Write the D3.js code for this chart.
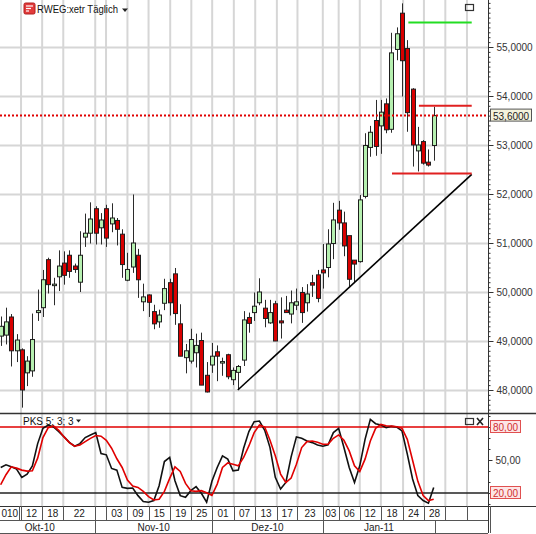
<!DOCTYPE html>
<html>
<head>
<meta charset="utf-8">
<script src="https://cdn.jsdelivr.net/npm/d3@7"></script>
<style>
  body { margin: 0; background: #fff; }
  text { font-family: "Liberation Sans", Arial, sans-serif; }
</style>
</head>
<body>
<div id="chart"></div>
<script>
var svgWidth = 536;
var svgHeight = 534;

// daily candles, RWE on Xetra, one per trading day
var opens = [49.10,49.12,49.49,48.80,48.82,48.35,48.39,49.58,49.68,50.66,
  50.13,50.31,50.59,50.75,50.53,50.20,51.12,51.20,51.70,51.31,
  51.70,51.39,51.46,51.18,50.24,50.51,50.75,49.80,49.94,49.60,
  49.39,49.77,50.19,50.37,49.35,48.66,48.59,48.76,49.01,48.30,
  48.51,48.78,48.55,48.72,48.21,48.36,48.61,49.48,49.58,49.78,
  49.67,49.37,49.76,49.41,49.63,49.55,49.73,49.99,49.78,50.19,
  50.35,50.45,50.50,50.99,51.67,51.41,51.15,50.65,50.62,51.95,
  52.95,53.50,53.39,53.84,53.32,54.95,55.69,54.97,54.14,52.88,
  53.07,52.65,52.99];
var highs = [49.50,49.68,49.55,49.14,48.85,48.69,49.56,50.05,50.45,50.70,
  50.29,50.85,50.83,50.85,50.58,51.24,51.60,51.83,51.75,51.61,
  51.78,51.81,51.51,51.28,50.80,51.99,50.88,50.17,49.95,49.74,
  49.64,50.27,50.27,50.49,49.75,48.94,49.25,49.15,49.17,48.57,
  48.96,48.91,48.66,48.74,48.46,48.51,49.61,49.58,49.99,50.28,
  49.84,49.84,49.82,49.89,49.92,50.03,50.07,50.10,50.16,50.35,
  50.45,50.98,51.28,51.82,51.86,51.64,51.15,50.65,51.98,53.24,
  53.39,53.92,53.92,53.95,55.29,55.40,55.89,55.14,54.16,53.37,
  53.10,52.91,53.78];
var lows = [48.90,48.93,48.48,48.57,47.64,48.08,48.27,49.41,49.49,49.97,
  49.73,50.02,50.15,50.29,50.39,50.00,50.92,50.99,50.97,50.97,
  50.92,51.22,50.95,50.29,50.22,50.39,49.88,49.61,49.49,49.24,
  49.27,49.63,49.52,49.33,48.69,48.34,48.54,48.46,48.10,47.95,
  48.35,48.18,48.29,48.22,48.10,48.02,48.49,49.17,49.41,49.73,
  49.28,49.35,49.00,49.05,49.58,49.36,49.63,49.37,49.60,49.90,
  49.79,50.07,50.30,50.67,51.27,50.73,50.11,50.18,50.60,51.91,
  52.76,52.78,52.82,53.24,53.25,54.73,53.99,53.27,52.56,52.46,
  52.60,52.56,52.68];
var closes = [49.30,49.39,48.80,49.02,48.00,48.59,49.03,49.62,50.25,50.15,
  50.16,50.53,50.34,50.42,50.46,50.75,51.20,51.49,51.20,51.47,
  51.10,51.51,51.28,50.56,50.46,51.00,50.25,49.90,49.79,49.35,
  49.53,50.07,49.78,49.56,48.69,48.80,49.03,48.91,48.10,47.96,
  48.69,48.69,48.58,48.27,48.40,48.48,49.43,49.36,49.71,50.00,
  49.46,49.58,49.00,49.37,49.58,49.78,49.80,49.58,49.96,50.14,
  49.87,50.39,50.98,51.47,51.41,50.94,50.26,50.57,51.88,52.99,
  53.26,52.97,53.67,53.31,54.88,55.27,54.72,53.66,53.00,53.00,
  52.63,52.59,53.60];

// slow stochastic (PKS 5; 3; 3): black %K, red %D
var stochK = [43.2,45.6,43.8,41.7,34.2,37.2,44.7,64.9,78.8,81.8,
  80,75.8,71,66.1,62.5,64.9,70.4,72.8,74.9,55.9,
  54.7,42.3,40.8,25.1,24.2,24.5,17.6,12.2,11.6,13.1,
  26.6,48.6,52.3,31.2,17.6,16.1,22.1,25.7,19.7,11.6,
  30.6,43.2,53.8,50.8,40.2,40.8,60.7,75.8,84.8,85.4,
  77,61.3,34.2,23.6,29.6,52.9,71,69.7,67.3,65.8,
  63.7,62.5,63.7,74.9,78.8,61.3,43.2,29.6,44.7,68.8,
  86.9,83,81.8,79.4,80.6,80,76.4,55.3,32.7,17.6,
  13.1,10.7,25.1];
var stochD = [27.5,36.6,43.8,42.6,40.8,39.9,40.2,51.7,70.4,79.4,
  80.9,77,71,65.8,62.5,63.7,66.7,69.7,72.2,71.6,
  67.9,60.7,51.1,43.2,31.8,26.3,25.1,21.5,16.7,13.7,
  14.3,21.5,33.3,43.8,39.6,28.7,22.1,21.5,22.1,20.3,
  17.9,28.1,43.2,47.4,46.2,44.7,52.3,62.8,74.9,81.8,
  80,67.9,53.8,37.2,29.6,33.6,46.2,61.3,66.7,67.3,
  66.1,64.3,64.3,69.7,72.8,67.9,58.3,44.7,39.6,50.8,
  67.3,78.8,82.4,81.2,80.9,80.3,78.8,68.8,49.8,30.6,
  17.6,13.1,14.3];

var priceTicks = [48, 49, 50, 51, 52, 53, 54, 55];
var oscTicks = [50];
var oscLevels = [80, 20];
var lastPrice = 53.6;

// date axis, in trading-day index units
var gridIdx = [3.85, 7.85, 11.85, 17.9, 19.95, 24, 28, 32.1, 36.1, 40.05, 44.15,
  48.2, 52.3, 56.2, 61, 64, 68, 72, 76.2, 80.15, 84.2, 88.3];
var dayEdges = [0, 3.45, 3.85, 7.85, 11.85, 17.9, 19.95, 24, 28, 32.1, 36.1, 40.05, 44.15,
  48.2, 52.3, 56.2, 61, 64, 68, 72, 76.2, 80.15, 84.2, 88.3, 92.6];
var dayLabels = ["010", "", "12", "18", "22", "", "03", "09", "15", "19", "25", "01", "07",
  "13", "17", "23", "03", "06", "12", "18", "24", "28", "", ""];
var monthEdges = [-3.1, 17.9, 40.05, 61, 82.25, 92.6];
var monthLabels = ["Okt-10", "Nov-10", "Dez-10", "Jan-11", ""];

// drawn lines: [start index, start price], [end index, end price]
var trendLine = [[44.9, 48.0], [89.2, 52.40]];
var supportLevel = [74.1, 89.2, 52.42];
var resistLevel = [79.2, 89.2, 53.80];
var targetLevel = [77.2, 89.2, 55.50];

var plotRight = 488;
var mainBottom = 413;
var oscBottom = 506;
var dayBottom = 520;
var monthBottom = 533;

var svg = d3.select("#chart")
  .append("svg")
  .attr("width", svgWidth)
  .attr("height", svgHeight);

var xScale = d3.scaleLinear().domain([0, 82]).range([0.7, 433.7]);
var yScale = d3.scaleLinear().domain([48, 55]).range([390, 47]);
var oscScale = d3.scaleLinear().domain([20, 80]).range([493, 427]);

var de = d3.formatLocale({decimal: ",", thousands: ".", grouping: [3], currency: ["", " €"]});
var fmt4 = de.format(".4f");
var fmt2 = de.format(".2f");

var defs = svg.append("defs");
defs.append("clipPath").attr("id", "clipMain")
  .append("rect").attr("x", 0).attr("y", 0).attr("width", plotRight).attr("height", mainBottom);
defs.append("clipPath").attr("id", "clipOsc")
  .append("rect").attr("x", 0).attr("y", mainBottom).attr("width", plotRight).attr("height", oscBottom - mainBottom);

// grid
var grid = svg.append("g");
grid.selectAll(".vgrid").data(gridIdx).enter().append("line")
  .attr("x1", d => xScale(d)).attr("x2", d => xScale(d))
  .attr("y1", 0).attr("y2", oscBottom)
  .attr("stroke", "#d6d6d6").attr("stroke-width", 2);
grid.selectAll(".hgrid").data(priceTicks).enter().append("line")
  .attr("x1", 0).attr("x2", plotRight)
  .attr("y1", d => Math.round(yScale(d)) + 0.5).attr("y2", d => Math.round(yScale(d)) + 0.5)
  .attr("stroke", "#d6d6d6").attr("stroke-width", 2);

// candles
var main = svg.append("g").attr("clip-path", "url(#clipMain)");
var idx = d3.range(opens.length);
function cx(i) { return Math.round(xScale(i)) + 0.5; }

main.selectAll(".wick").data(idx).enter().append("line")
  .attr("x1", cx).attr("x2", cx)
  .attr("y1", i => yScale(highs[i])).attr("y2", i => yScale(lows[i]))
  .attr("stroke", "#2b2b2b").attr("stroke-width", 1);

main.selectAll(".body").data(idx).enter().append("rect")
  .attr("x", i => cx(i) - 2)
  .attr("width", 4)
  .attr("y", i => yScale(Math.max(opens[i], closes[i])))
  .attr("height", i => Math.max(1, Math.abs(yScale(opens[i]) - yScale(closes[i]))))
  .attr("fill", i => closes[i] >= opens[i] ? "#b6f0b0" : "#d80000")
  .attr("stroke", "#1e1e1e").attr("stroke-width", 1);

// last price
main.append("line")
  .attr("x1", 0).attr("x2", plotRight)
  .attr("y1", yScale(lastPrice)).attr("y2", yScale(lastPrice))
  .attr("stroke", "#e00000").attr("stroke-width", 2).attr("stroke-dasharray", "2,2");

// drawn tools
main.append("line")
  .attr("x1", xScale(trendLine[0][0])).attr("y1", yScale(trendLine[0][1]))
  .attr("x2", xScale(trendLine[1][0])).attr("y2", yScale(trendLine[1][1]))
  .attr("stroke", "#000").attr("stroke-width", 1.6);

[[supportLevel, "#e02020"], [resistLevel, "#e02020"], [targetLevel, "#22dd22"]].forEach(function(l) {
  main.append("line")
    .attr("x1", xScale(l[0][0])).attr("x2", xScale(l[0][1]))
    .attr("y1", yScale(l[0][2])).attr("y2", yScale(l[0][2]))
    .attr("stroke", l[1]).attr("stroke-width", 2);
});

// oscillator
var osc = svg.append("g").attr("clip-path", "url(#clipOsc)");
osc.selectAll(".lvl").data(oscLevels).enter().append("line")
  .attr("x1", 0).attr("x2", plotRight)
  .attr("y1", d => oscScale(d)).attr("y2", d => oscScale(d))
  .attr("stroke", d => d === 80 ? "#e00000" : "#222").attr("stroke-width", 1.5);

var oscLine = d3.line().x((d, i) => xScale(i)).y(d => oscScale(d));
osc.append("path").datum(stochK).attr("d", oscLine)
  .attr("fill", "none").attr("stroke", "#111").attr("stroke-width", 1.6);
osc.append("path").datum(stochD).attr("d", oscLine)
  .attr("fill", "none").attr("stroke", "#e00000").attr("stroke-width", 1.6);

// panel frames
svg.append("line").attr("x1", 0).attr("x2", svgWidth).attr("y1", mainBottom + 0.5).attr("y2", mainBottom + 0.5)
  .attr("stroke", "#333").attr("stroke-width", 1.5);
svg.append("line").attr("x1", plotRight + 0.5).attr("x2", plotRight + 0.5).attr("y1", 0).attr("y2", monthBottom)
  .attr("stroke", "#333").attr("stroke-width", 1);
svg.append("line").attr("x1", 0).attr("x2", svgWidth).attr("y1", oscBottom + 0.5).attr("y2", oscBottom + 0.5)
  .attr("stroke", "#333").attr("stroke-width", 1);
svg.append("line").attr("x1", 0).attr("x2", plotRight).attr("y1", dayBottom + 0.5).attr("y2", dayBottom + 0.5)
  .attr("stroke", "#555").attr("stroke-width", 1);
svg.append("line").attr("x1", 0).attr("x2", plotRight).attr("y1", monthBottom + 0.5).attr("y2", monthBottom + 0.5)
  .attr("stroke", "#555").attr("stroke-width", 1);

// price axis
var priceAxis = svg.append("g")
  .attr("transform", `translate(${plotRight + 0.5}, 0)`)
  .call(d3.axisRight(yScale).tickValues(priceTicks).tickFormat(fmt4).tickSize(5).tickPadding(3));
var minorAxis = svg.append("g")
  .attr("transform", `translate(${plotRight + 0.5}, 0)`)
  .call(d3.axisRight(yScale).tickValues(d3.range(476, 560).map(v => v / 10)).tickFormat("").tickSize(2));
[priceAxis, minorAxis].forEach(function(a) {
  a.select(".domain").remove();
  a.selectAll("line").attr("stroke", "#333");
});
priceAxis.selectAll("text").attr("font-size", "10px").attr("fill", "#333")
  .attr("font-family", "Liberation Sans, Arial, sans-serif");

// last price tag
var tagY = yScale(lastPrice);
svg.append("rect").attr("x", plotRight + 2.5).attr("y", tagY - 6.5).attr("width", 41).attr("height", 12)
  .attr("fill", "#f3f3dc").attr("stroke", "#555");
svg.append("text").attr("x", plotRight + 5).attr("y", tagY + 4)
  .attr("font-size", "10px").attr("fill", "#222").text(fmt4(lastPrice));

// oscillator axis
var oscAxis = svg.append("g")
  .attr("transform", `translate(${plotRight + 0.5}, 0)`)
  .call(d3.axisRight(oscScale).tickValues(oscTicks).tickFormat(fmt2).tickSize(4).tickPadding(3));
var oscMinor = svg.append("g")
  .attr("transform", `translate(${plotRight + 0.5}, 0)`)
  .call(d3.axisRight(oscScale).tickValues(d3.range(10, 100, 10)).tickFormat("").tickSize(2));
[oscAxis, oscMinor].forEach(function(a) {
  a.select(".domain").remove();
  a.selectAll("line").attr("stroke", "#333");
});
oscMinor.selectAll(".tick").filter(d => oscScale(d) < mainBottom + 2 || oscScale(d) > oscBottom - 1).remove();
oscAxis.selectAll("text").attr("font-size", "10px").attr("fill", "#333")
  .attr("font-family", "Liberation Sans, Arial, sans-serif");

oscLevels.forEach(function(v) {
  var yy = oscScale(v);
  svg.append("rect").attr("x", plotRight + 2.5).attr("y", yy - 6.5).attr("width", 30).attr("height", 12)
    .attr("fill", "#fde6e6").attr("stroke", "#e05050");
  svg.append("text").attr("x", plotRight + 5).attr("y", yy + 4)
    .attr("font-size", "10px").attr("fill", "#d03030").text(fmt2(v));
});

// date axis: days
var dayAxis = svg.append("g");
dayAxis.selectAll(".dsep").data(dayEdges.slice(1)).enter().append("line")
  .attr("x1", d => Math.round(xScale(d)) + 0.5).attr("x2", d => Math.round(xScale(d)) + 0.5)
  .attr("y1", oscBottom).attr("y2", dayBottom)
  .attr("stroke", "#555");
dayAxis.selectAll(".dlab").data(dayLabels).enter().append("text")
  .attr("x", (d, i) => (xScale(dayEdges[i]) + xScale(dayEdges[i + 1])) / 2)
  .attr("y", oscBottom + 11)
  .attr("text-anchor", "middle")
  .attr("font-size", "10px").attr("fill", "#222")
  .text(d => d);

// date axis: months
var monthAxis = svg.append("g");
monthAxis.selectAll(".msep").data(monthEdges.slice(1)).enter().append("line")
  .attr("x1", d => Math.round(xScale(d)) + 0.5).attr("x2", d => Math.round(xScale(d)) + 0.5)
  .attr("y1", dayBottom).attr("y2", monthBottom)
  .attr("stroke", "#555");
monthAxis.selectAll(".mlab").data(monthLabels).enter().append("text")
  .attr("x", (d, i) => (xScale(monthEdges[i]) + xScale(monthEdges[i + 1])) / 2)
  .attr("y", dayBottom + 11)
  .attr("text-anchor", "middle")
  .attr("font-size", "10px").attr("fill", "#222")
  .text(d => d);

// header: instrument title and indicator title
var icon = svg.append("g").attr("transform", "translate(24, 3)");
icon.append("rect").attr("width", 11).attr("height", 11).attr("rx", 1.5).attr("fill", "#e23b3b").attr("stroke", "#b02020");
[3, 5.5, 8].forEach(function(yy, k) {
  icon.append("line").attr("x1", 2).attr("x2", 9 - k * 2).attr("y1", yy).attr("y2", yy)
    .attr("stroke", "#fff").attr("stroke-width", 1.2);
});
svg.append("text").attr("x", 37).attr("y", 13)
  .attr("font-size", "10px").attr("fill", "#111")
  .attr("textLength", 81).attr("lengthAdjust", "spacingAndGlyphs")
  .text("RWEG:xetr Täglich");
svg.append("path").attr("d", "M122,8.5 h6 l-3,3.5 z").attr("fill", "#222");

svg.append("text").attr("x", 23).attr("y", 425)
  .attr("font-size", "10px").attr("fill", "#111").text("PKS 5; 3; 3");
svg.append("path").attr("d", "M76,419.5 h5 l-2.5,3 z").attr("fill", "#222");

// window buttons
svg.append("rect").attr("x", 465.5).attr("y", 4.5).attr("width", 8).attr("height", 6)
  .attr("fill", "none").attr("stroke", "#333").attr("stroke-width", 1.2);
svg.append("rect").attr("x", 465.5).attr("y", 418.5).attr("width", 8).attr("height", 6)
  .attr("fill", "none").attr("stroke", "#333").attr("stroke-width", 1.2);
svg.append("path").attr("d", "M477,418 l6,7 M483,418 l-6,7")
  .attr("stroke", "#222").attr("stroke-width", 1.6);
</script>
</body>
</html>
